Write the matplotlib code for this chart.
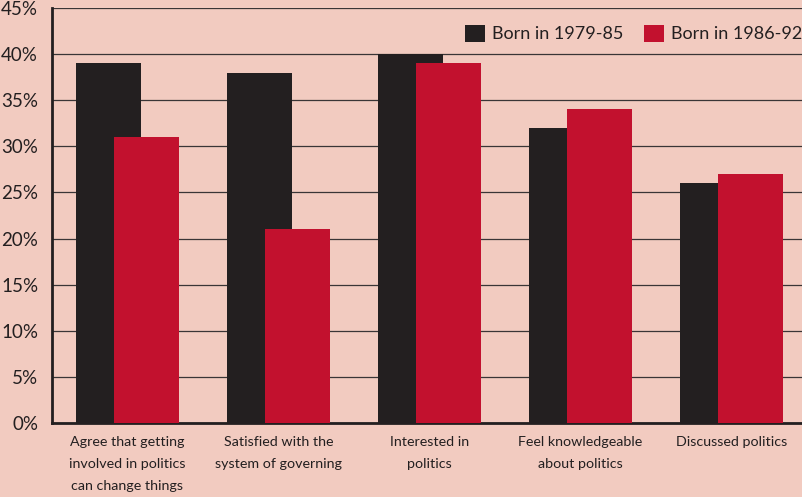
import numpy as np
import matplotlib.pyplot as plt
from matplotlib.ticker import PercentFormatter

# Survey categories and shares (%) per birth cohort
categories = ['Agree that getting\ninvolved in politics\ncan change things',
              'Satisfied with the\nsystem of governing',
              'Interested in\npolitics',
              'Feel knowledgeable\nabout politics',
              'Discussed politics']
born_1979_85 = [39, 38, 40, 32, 26]
born_1986_92 = [31, 21, 39, 34, 27]

bg = '#f2cbc0'
dark = '#231f20'
red = '#c2112e'

plt.rcParams['font.family'] = ['Lato', 'DejaVu Sans']

fig = plt.figure(figsize=(8.02, 4.97), dpi=100, facecolor=bg)
ax = fig.add_axes([52 / 802, 74 / 497, 750 / 802, 415 / 497])
ax.set_facecolor(bg)

x = np.arange(len(categories))
width = 0.43
offset = 0.126
ax.bar(x - offset, born_1979_85, width, color=dark, label='Born in 1979-85', zorder=2)
ax.bar(x + offset, born_1986_92, width, color=red, label='Born in 1986-92', zorder=3)

ax.set_xlim(-0.5, 4.467)
ax.set_ylim(0, 45)
ax.set_yticks(np.arange(0, 46, 5))
ax.yaxis.set_major_formatter(PercentFormatter(decimals=0))
ax.grid(axis='y', color='#3a3536', linewidth=0.9, zorder=1)
ax.set_axisbelow(True)

ax.set_xticks(x)
ax.set_xticklabels(categories, fontsize=10.3, color=dark, linespacing=2.05, va='top')
ax.tick_params(axis='x', length=0, pad=9)
ax.tick_params(axis='y', length=0, pad=10, labelsize=13.5, labelcolor=dark)

for side in ['top', 'right']:
    ax.spines[side].set_visible(False)
ax.spines['left'].set_color(dark)
ax.spines['left'].set_linewidth(2)
ax.spines['bottom'].set_color(dark)
ax.spines['bottom'].set_linewidth(2)

leg = ax.legend(loc='upper right', bbox_to_anchor=(1.0, 0.96), ncol=2, frameon=False,
                fontsize=13, handlelength=1.1, handleheight=1.1,
                handletextpad=0.4, columnspacing=1.1, borderaxespad=0, borderpad=0)
for t in leg.get_texts():
    t.set_color(dark)

fig.savefig('out.png', dpi=100, facecolor=bg)
